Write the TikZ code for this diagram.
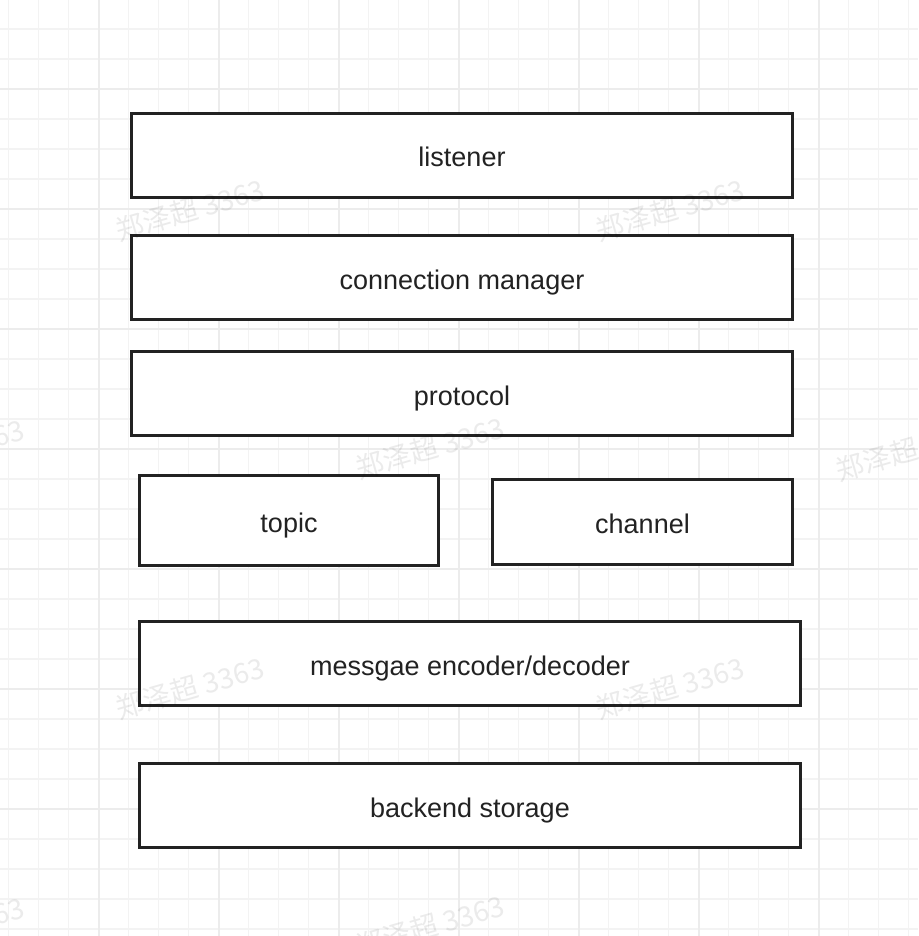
\documentclass[tikz,border=0pt]{standalone}
\usepackage{fontspec}
\setmainfont{Liberation Sans}
\newfontfamily\cjk{Noto Sans CJK SC}
\definecolor{gridminor}{HTML}{F3F3F3}
\definecolor{gridmajor}{HTML}{ECECEC}
\definecolor{ink}{HTML}{222222}
\tikzset{
  box/.style={draw=ink, line width=3pt, fill=white, text=ink, inner sep=0pt,
    text height=25pt, text depth=2pt,
    font=\fontsize{27}{32}\selectfont},
  wmark/.style={text=black, text opacity=0.08, rotate=16, font=\cjk\fontsize{28}{32}\selectfont}
}
\begin{document}
\begin{tikzpicture}[x=1pt,y=-1pt]
\useasboundingbox (0,0) rectangle (918,936);
\fill[white] (0,0) rectangle (918,936);
% grid
\foreach \i in {0,...,30}{
  \draw[gridminor, line width=1.3pt] ({8.3+30*\i},0) -- ({8.3+30*\i},936);
  \draw[gridminor, line width=1.3pt] (0,{29+30*\i}) -- (918,{29+30*\i});
}
\foreach \i in {0,...,6}{
  \draw[gridmajor, line width=1.6pt] ({99+120*\i},0) -- ({99+120*\i},936);
  \draw[gridmajor, line width=1.6pt] (0,{89+120*\i}) -- (918,{89+120*\i});
}
% boxes
\node[box, minimum width=661pt, minimum height=84pt] (listener) at (462,155.5) {listener};
\node[box, minimum width=661pt, minimum height=84pt] (conn) at (462,277.5) {connection manager};
\node[box, minimum width=661pt, minimum height=84pt] (protocol) at (462,393.5) {protocol};
\node[box, minimum width=299pt, minimum height=90pt] (topic) at (289,520.5) {topic};
\node[box, minimum width=300pt, minimum height=85pt] (channel) at (642.5,522) {channel};
\node[box, minimum width=661pt, minimum height=84pt] (codec) at (470,663.5) {messgae encoder/decoder};
\node[box, minimum width=661pt, minimum height=84pt] (storage) at (470,805.5) {backend storage};
% watermarks (drawn over everything, faint)
\node[wmark] (w1) at (190,210) {郑泽超 3363};
\node[wmark] (w2) at (670,210) {郑泽超 3363};
\node[wmark] (w3) at (430,448) {郑泽超 3363};
\node[wmark] (w4) at (190,688) {郑泽超 3363};
\node[wmark] (w5) at (670,688) {郑泽超 3363};
\node[wmark] (w6) at (430,926) {郑泽超 3363};
\node[wmark] (w7) at (-50,450) {郑泽超 3363};
\node[wmark] (w8) at (-50,928) {郑泽超 3363};
\node[wmark] (w9) at (910,450) {郑泽超 3363};
\end{tikzpicture}
\end{document}
